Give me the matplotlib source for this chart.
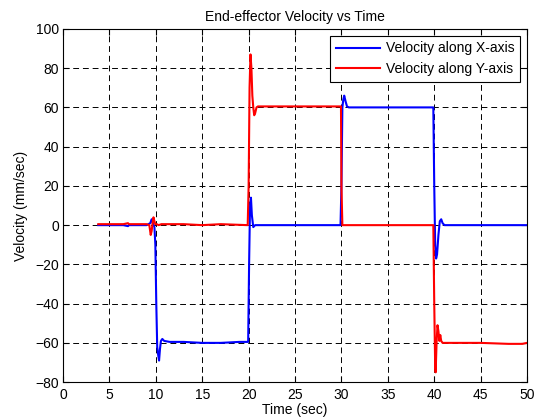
import matplotlib
matplotlib.use("Agg")
import matplotlib.pyplot as plt

plt.rcParams['font.family'] = ['Liberation Sans', 'DejaVu Sans']

# Time samples and velocities
t_x = [3.8, 5.0, 6.5, 7.0, 7.1, 8.0, 9.0, 9.4, 9.55, 9.7, 9.85, 9.95, 10.05, 10.15, 10.25, 10.35, 10.45, 10.55, 10.7, 10.9,
       11.5, 13.0, 15.0, 17.0, 19.0, 19.95, 20.05, 20.15, 20.25, 20.35, 20.5, 20.7, 21.0, 22.0, 25.0, 29.9, 30.0,
       30.1, 30.2, 30.3, 30.45, 30.6, 30.8, 31.0, 32.0, 35.0, 37.0, 39.9, 40.0, 40.1, 40.2, 40.3, 40.45, 40.6,
       40.75, 40.9, 41.1, 41.5, 43.0, 45.0, 48.0, 50.0]
v_x = [0.0, 0.0, 0.0, -0.5, 0.0, 0.0, 0.0, 1.0, 3.0, 1.0, -1.0, -10.0, -40.0, -62.0, -66.0, -69.0, -63.0, -59.0, -58.0, -59.0,
       -59.5, -59.5, -60.0, -60.0, -59.5, -59.5, -20.0, 10.0, 14.0, 5.0, -1.0, 0.0, 0.0, 0.0, 0.0, 0.0, 20.0,
       60.0, 64.0, 66.0, 63.0, 60.5, 60.0, 60.0, 60.0, 60.0, 60.0, 60.0, 20.0, -10.0, -17.0, -15.0, -5.0, 2.0,
       3.0, 1.0, 0.0, 0.0, 0.0, 0.0, 0.0, 0.0]

t_y = [3.8, 5.0, 6.5, 7.0, 7.1, 8.0, 9.0, 9.3, 9.45, 9.55, 9.65, 9.75, 9.85, 9.95, 10.1, 10.3, 10.6, 11.0, 13.0, 15.0,
       17.0, 19.9, 20.0, 20.1, 20.2, 20.3, 20.4, 20.5, 20.6, 20.7, 20.85, 21.0, 21.5, 23.0, 25.0, 29.95, 30.0,
       30.1, 30.3, 32.0, 35.0, 39.9, 40.0, 40.1, 40.15, 40.25, 40.35, 40.45, 40.55, 40.65, 40.75, 40.9, 41.1,
       41.5, 43.0, 45.0, 48.0, 49.5, 50.0]
v_y = [0.5, 0.5, 0.5, 1.0, 0.5, 0.5, 0.5, 0.0, -5.0, -3.0, 1.0, 4.0, 2.0, 0.5, 0.5, 0.0, 0.5, 0.5, 0.5, 0.0,
       0.5, 0.0, 20.0, 70.0, 87.0, 80.0, 66.0, 60.0, 56.0, 57.0, 60.0, 60.5, 60.5, 60.5, 60.5, 60.5, 20.0,
       0.0, 0.0, 0.0, 0.0, 0.0, -40.0, -72.0, -75.0, -60.0, -51.0, -54.0, -59.0, -56.0, -59.0, -60.0, -60.0,
       -60.0, -60.0, -60.0, -60.5, -60.5, -60.0]

x_ticks = [0, 5, 10, 15, 20, 25, 30, 35, 40, 45, 50]
y_ticks = [-80, -60, -40, -20, 0, 20, 40, 60, 80, 100]

fig = plt.figure(figsize=(5.34, 4.19), dpi=100)
ax = fig.add_axes([0.118, 0.088, 0.869, 0.843])

ax.plot(t_x, v_x, color='#0000ff', lw=1.5, label='Velocity along X-axis')
ax.plot(t_y, v_y, color='#ff0000', lw=1.5, label='Velocity along Y-axis')

ax.set_xlim(0, 50)
ax.set_ylim(-80, 100)
ax.set_xticks(x_ticks)
ax.set_yticks(y_ticks)
ax.tick_params(direction='in', labelsize=10, length=4, top=True, right=True)
ax.tick_params(axis='x', pad=4)
ax.tick_params(axis='y', pad=3)
ax.grid(True, color='black', linestyle=(0, (6, 4)), lw=0.7)
for s in ax.spines.values():
    s.set_linewidth(0.8)

ax.set_title('End-effector Velocity vs Time', fontsize=10, pad=6)
ax.set_xlabel('Time (sec)', fontsize=10, labelpad=1)
ax.set_ylabel('Velocity (mm/sec)', fontsize=10, labelpad=5)

leg = ax.legend(loc='upper right', fontsize=10, fancybox=False, framealpha=1,
                edgecolor='black', borderaxespad=0.5, handlelength=3.2,
                handletextpad=0.4)
leg.get_frame().set_linewidth(0.8)

fig.savefig('out.png', dpi=100)
